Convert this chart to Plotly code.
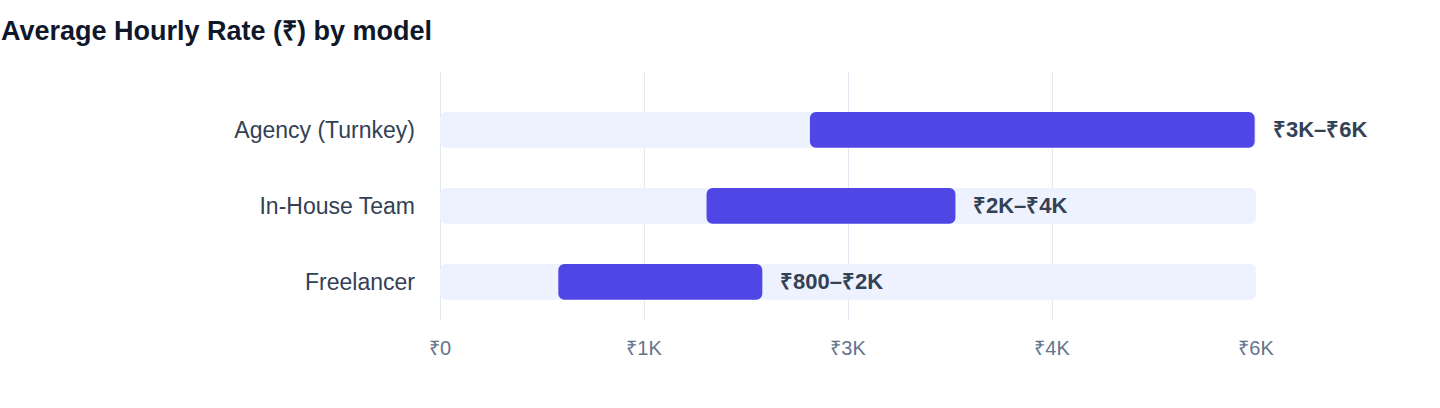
import plotly.graph_objects as go

# data
models = ["Freelancer", "In-House Team", "Agency (Turnkey)"]
rate_low = [870, 1960, 2720]
rate_high = [2370, 3790, 5990]
range_labels = ["₹800–₹2K", "₹2K–₹4K", "₹3K–₹6K"]
track_max = [6000, 6000, 6000]
tick_vals = [0, 1500, 3000, 4500, 6000]
tick_text = ["₹0", "₹1K", "₹3K", "₹4K", "₹6K"]

PURPLE = "#4F46E5"
TRACK = "#EEF2FF"
GRID = "#E2E8F0"
FONT = "Liberation Sans, Arial, sans-serif"

fig = go.Figure()

# light background track spanning the full scale
fig.add_trace(go.Bar(
    y=models, x=track_max, base=[0] * len(models), orientation="h",
    marker=dict(color=TRACK, line=dict(width=0)),
    width=0.47, hoverinfo="skip", showlegend=False,
))

# the actual rate range
fig.add_trace(go.Bar(
    y=models, x=[h - l for l, h in zip(rate_low, rate_high)], base=rate_low,
    orientation="h",
    marker=dict(color=PURPLE, line=dict(width=0)),
    width=0.47, showlegend=False,
    customdata=range_labels,
    hovertemplate="%{y}: %{customdata}<extra></extra>",
))

# range labels just right of each bar
for m, h, lab in zip(models, rate_high, range_labels):
    fig.add_annotation(
        x=h, y=m, text=lab, showarrow=False,
        xanchor="left", xshift=16,
        font=dict(family=FONT, size=22, color="#334155", weight="bold"),
    )

fig.update_layout(
    width=1440, height=408,
    barmode="overlay",
    barcornerradius=6,
    plot_bgcolor="white", paper_bgcolor="white",
    margin=dict(l=440, r=184, t=72, b=88),
    font=dict(family=FONT),
    title=dict(
        text="<b>Average Hourly Rate (₹) by model</b>",
        x=0, xref="container", xanchor="left",
        y=1 - 31 / 408, yref="container", yanchor="middle",
        pad=dict(l=1),
        font=dict(family=FONT, size=27, color="#0F172A"),
    ),
)

fig.update_xaxes(
    range=[0, 6000], tickvals=tick_vals, ticktext=tick_text,
    showgrid=True, gridcolor=GRID, gridwidth=1,
    zeroline=True, zerolinecolor=GRID, zerolinewidth=1,
    showline=False, ticks="", ticklabelstandoff=14,
    tickfont=dict(family=FONT, size=20, color="#64748B"),
)
fig.update_yaxes(
    categoryorder="array", categoryarray=models,
    range=[-0.5, 2.76],
    showgrid=False, zeroline=False, showline=False,
    ticks="", ticklabelstandoff=24,
    tickfont=dict(family=FONT, size=23, color="#334155"),
)

fig.write_html("out.html", config={"displayModeBar": False},
               post_script="document.body.style.margin='0';")
